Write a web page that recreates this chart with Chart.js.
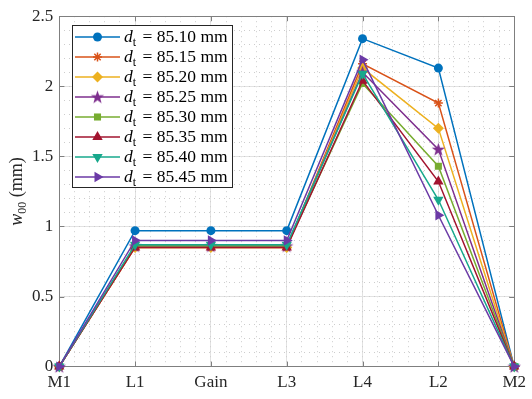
<!DOCTYPE html>
<html>
<head>
<meta charset="utf-8">
<script src="https://cdn.jsdelivr.net/npm/chart.js@4.4.0/dist/chart.umd.min.js"></script>
<style>
  html, body { margin: 0; padding: 0; background: #fff; }
</style>
</head>
<body>
<canvas id="myChart" width="532" height="399"></canvas>
<script>
// data
const stations = ["M1", "L1", "Gain", "L3", "L4", "L2", "M2"];
const diameters = ["85.10", "85.15", "85.20", "85.25", "85.30", "85.35", "85.40", "85.45"];
const w8510 = [0, 0.97, 0.97, 0.97, 2.34, 2.13, 0];
const w8515 = [0, 0.85, 0.85, 0.85, 2.16, 1.88, 0];
const w8520 = [0, 0.85, 0.85, 0.85, 2.13, 1.70, 0];
const w8525 = [0, 0.86, 0.86, 0.86, 2.10, 1.55, 0];
const w8530 = [0, 0.86, 0.86, 0.86, 2.02, 1.43, 0];
const w8535 = [0, 0.85, 0.85, 0.85, 2.04, 1.32, 0];
const w8540 = [0, 0.87, 0.87, 0.87, 2.09, 1.19, 0];
const w8545 = [0, 0.90, 0.90, 0.90, 2.19, 1.08, 0];
const yTicks = ["0", "0.5", "1", "1.5", "2", "2.5"];

const series = [w8510, w8515, w8520, w8525, w8530, w8535, w8540, w8545];
const colors = ["#0072BD", "#D95319", "#EDB120", "#7E2F8E", "#77AC30", "#A2142F", "#17A88C", "#6B3AA6"];

const serif = "'Liberation Serif', 'Times New Roman', serif";

// filled five point star, matlab's pentagram
function pentagram(color) {
  const c = document.createElement("canvas");
  c.width = 15; c.height = 15;
  const g = c.getContext("2d");
  g.beginPath();
  for (let k = 0; k < 10; k++) {
    const r = k % 2 ? 2.8 : 7;
    const a = -Math.PI / 2 + k * Math.PI / 5;
    g.lineTo(7.5 + r * Math.cos(a), 8 + r * Math.sin(a));
  }
  g.closePath();
  g.fillStyle = color;
  g.fill();
  return c;
}

const markers = [
  {pointStyle: "circle", radius: 4.5, rotation: 0},
  {pointStyle: "star", radius: 4.5, rotation: 0},
  {pointStyle: "rectRot", radius: 5.5, rotation: 0},
  {pointStyle: pentagram(colors[3]), radius: 6, rotation: 0},
  {pointStyle: "rect", radius: 5, rotation: 0},
  {pointStyle: "triangle", radius: 6, rotation: 0},
  {pointStyle: "triangle", radius: 6, rotation: 180},
  {pointStyle: "triangle", radius: 6, rotation: 90},
];

const datasets = series.map((vals, i) => ({
  label: diameters[i],
  data: vals,
  borderColor: colors[i],
  backgroundColor: colors[i],
  borderWidth: 1.5,
  pointStyle: markers[i].pointStyle,
  pointRadius: markers[i].radius,
  pointRotation: markers[i].rotation,
  pointBorderWidth: i === 1 ? 1.5 : 0,
  pointBackgroundColor: colors[i],
  pointBorderColor: colors[i],
  tension: 0,
  clip: 8,
  order: series.length - i,
}));

// box, inward ticks, y label and legend, matlab style
const matlabAxes = {
  id: "matlabAxes",
  beforeDatasetsDraw(chart) {
    const {ctx, chartArea: a, scales} = chart;
    ctx.save();
    ctx.strokeStyle = "#7f7f7f";
    ctx.lineWidth = 1;
    ctx.strokeRect(Math.round(a.left) + 0.5, Math.round(a.top) + 0.5,
      Math.round(a.right - a.left), Math.round(a.bottom - a.top));
    ctx.beginPath();
    scales.x.ticks.forEach((t, i) => {
      const px = Math.round(scales.x.getPixelForTick(i)) + 0.5;
      ctx.moveTo(px, a.bottom); ctx.lineTo(px, a.bottom - 5);
      ctx.moveTo(px, a.top); ctx.lineTo(px, a.top + 5);
    });
    scales.y.ticks.forEach((t, i) => {
      const py = Math.round(scales.y.getPixelForTick(i)) + 0.5;
      ctx.moveTo(a.left, py); ctx.lineTo(a.left + 5, py);
      ctx.moveTo(a.right, py); ctx.lineTo(a.right - 5, py);
    });
    ctx.stroke();
    ctx.restore();
  },
  afterDraw(chart) {
    const {ctx, chartArea: a} = chart;
    ctx.save();
    // y axis title: w_00 (mm)
    ctx.translate(16, (a.top + a.bottom) / 2);
    ctx.rotate(-Math.PI / 2);
    ctx.fillStyle = "#262626";
    ctx.textBaseline = "alphabetic";
    const big = "italic 18px " + serif, small = "12px " + serif, reg = "18px " + serif;
    ctx.font = big; const w1 = ctx.measureText("w").width;
    ctx.font = small; const w2 = ctx.measureText("00").width;
    ctx.font = reg; const w3 = ctx.measureText(" (mm)").width;
    let x = -(w1 + w2 + w3) / 2;
    ctx.font = big; ctx.fillText("w", x, 6); x += w1;
    ctx.font = small; ctx.fillText("00", x, 10); x += w2;
    ctx.font = reg; ctx.fillText(" (mm)", x, 6);
    ctx.restore();

    // legend box
    ctx.save();
    const bx = 72, by = 25, bw = 160, bh = 162;
    ctx.fillStyle = "#fff";
    ctx.fillRect(bx, by, bw, bh);
    ctx.strokeStyle = "#262626";
    ctx.lineWidth = 1;
    ctx.strokeRect(bx + 0.5, by + 0.5, bw, bh);
    chart.data.datasets.forEach((ds, i) => {
      const y = 37 + i * 20;
      ctx.strokeStyle = ds.borderColor;
      ctx.lineWidth = 1.5;
      ctx.beginPath();
      ctx.moveTo(75, y); ctx.lineTo(120, y);
      ctx.stroke();
      ctx.fillStyle = ds.backgroundColor;
      Chart.helpers.drawPoint(ctx, {
        pointStyle: ds.pointStyle, radius: ds.pointRadius,
        rotation: ds.pointRotation, borderWidth: ds.pointBorderWidth || 0
      }, 97.5, y);
      ctx.fillStyle = "#000";
      ctx.textBaseline = "alphabetic";
      let tx = 124;
      const base = y + 5;
      ctx.font = "italic 17.5px " + serif; ctx.fillText("d", tx, base); tx += ctx.measureText("d").width;
      ctx.font = "12px " + serif; ctx.fillText("t", tx, base + 4); tx += ctx.measureText("t").width;
      ctx.font = "17.5px " + serif; ctx.fillText(" = " + ds.label + " mm", tx + 2, base);
    });
    ctx.restore();
  }
};

const config = {
  type: "line",
  data: { labels: stations, datasets: datasets },
  options: {
    responsive: false,
    animation: false,
    layout: { padding: { top: 16, right: 0, bottom: 0, left: 26 } },
    scales: {
      x: {
        type: "category",
        offset: false,
        grid: { color: "#e2e2e2", drawTicks: false },
        border: { display: false },
        ticks: { font: { family: serif, size: 17 }, color: "#262626", padding: 6, maxRotation: 0 },
      },
      xMinor: {
        type: "linear",
        position: "bottom",
        min: 0,
        max: stations.length - 1,
        ticks: { display: false, stepSize: 0.2 },
        grid: { color: "#cdcdcd", drawTicks: false },
        border: { display: false, dash: [1, 4] },
      },
      y: {
        min: 0,
        max: 2.5,
        grid: { color: "#e2e2e2", drawTicks: false },
        border: { display: false },
        ticks: {
          stepSize: 0.5,
          font: { family: serif, size: 17 },
          color: "#262626",
          padding: 6,
          callback: (v, i) => yTicks[i],
        },
      },
      yMinor: {
        type: "linear",
        position: "left",
        min: 0,
        max: 2.5,
        ticks: { display: false, stepSize: 0.1 },
        grid: { color: "#cdcdcd", drawTicks: false },
        border: { display: false, dash: [1, 4] },
      },
    },
    plugins: {
      legend: { display: false },
      tooltip: { enabled: false },
    },
  },
  plugins: [matlabAxes],
};

const myChart = new Chart(document.getElementById("myChart").getContext("2d"), config);
</script>
</body>
</html>
